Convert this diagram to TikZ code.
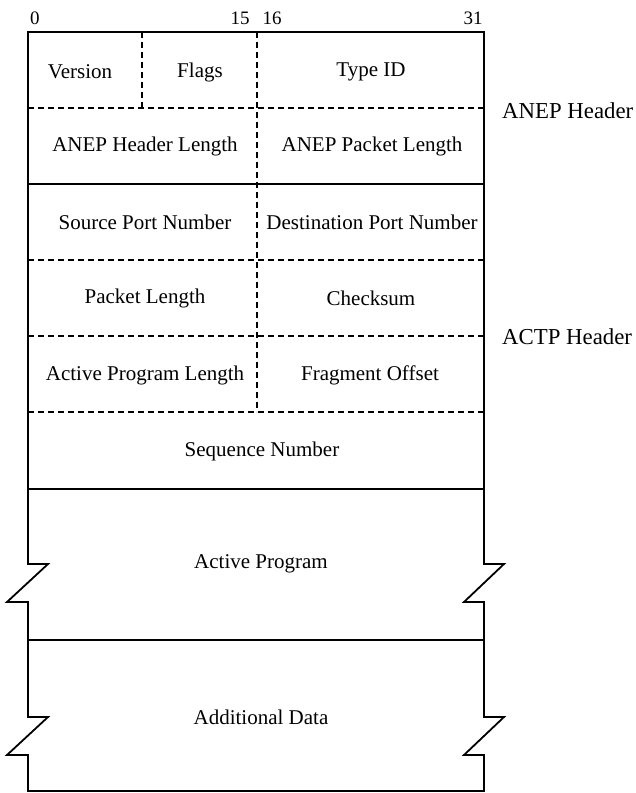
\documentclass[tikz,border=0pt]{standalone}
\usepackage{fontspec}
\setmainfont{Liberation Serif}
\begin{document}
\begin{tikzpicture}[x=1pt,y=-1pt,
  frame/.style={line width=1.8pt, line join=miter},
  dline/.style={line width=1.8pt, dash pattern=on 6pt off 4pt},
  field/.style={font=\fontsize{21}{25}\selectfont, inner sep=0pt},
  side/.style={font=\fontsize{22.8}{26}\selectfont, inner sep=0pt, anchor=west},
  bit/.style={font=\fontsize{19}{22}\selectfont, inner sep=0pt}]
\useasboundingbox (0,0) rectangle (635,793);
% frame with breaks
\draw[frame] (28,32) -- (28,564) -- (48,564) -- (7,602) -- (28,602) -- (28,717)
  -- (48,717) -- (7,755) -- (28,755) -- (28,791) -- (484,791) -- (484,755)
  -- (464,755) -- (504,717) -- (484,717) -- (484,602) -- (464,602) -- (504,564)
  -- (484,564) -- (484,32) -- cycle;
% solid separators
\draw[frame] (28,184) -- (484,184);
\draw[frame] (28,489) -- (484,489);
\draw[frame] (28,640) -- (484,640);
% dashed separators
\draw[dline] (28,108) -- (484,108);
\draw[dline] (28,260) -- (484,260);
\draw[dline] (28,336) -- (484,336);
\draw[dline] (28,412) -- (484,412);
\draw[dline] (142,32) -- (142,108);
\draw[dline] (257,32) -- (257,412);
% bit numbers
\node[bit] (b0) at (35,18) {0};
\node[bit] (b15) at (240,18) {15};
\node[bit] (b16) at (272,18) {16};
\node[bit] (b31) at (473,18) {31};
% fields
\node[field] (ver) at (80,72) {Version};
\node[field] (flags) at (200,72) {Flags};
\node[field] (type) at (371,72) {Type ID};
\node[field] (hlen) at (145,146) {ANEP Header Length};
\node[field] (plen) at (372,146) {ANEP Packet Length};
\node[field] (sport) at (145,222) {Source Port Number};
\node[field] (dport) at (372,222) {Destination Port Number};
\node[field] (pklen) at (145,298) {Packet Length};
\node[field] (cks) at (371,298) {Checksum};
\node[field] (aplen) at (145,375) {Active Program Length};
\node[field] (frag) at (370,375) {Fragment Offset};
\node[field] (seq) at (262,451) {Sequence Number};
\node[field] (ap) at (261,564) {Active Program};
\node[field] (ad) at (261,717) {Additional Data};
% side labels
\node[side] (anep) at (502,111) {ANEP Header};
\node[side] (actp) at (502,337) {ACTP Header};
\end{tikzpicture}
\end{document}
